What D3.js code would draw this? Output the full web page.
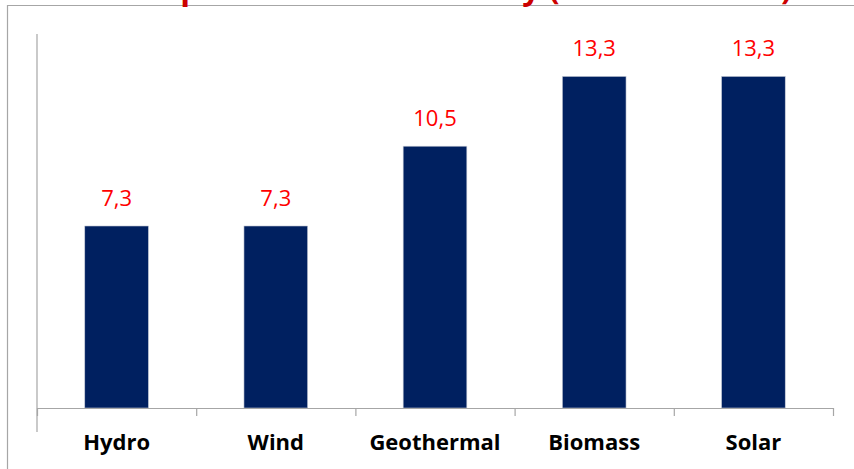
<!DOCTYPE html>
<html>
<head>
<meta charset="utf-8">
<script src="https://cdn.jsdelivr.net/npm/d3@7"></script>
<style>
  body { margin: 0; background: #fff; }
  svg { display: block; }
</style>
</head>
<body>
<svg id="chart"></svg>
<script>
// data
var categories = ["Hydro", "Wind", "Geothermal", "Biomass", "Solar"];
var values = [7.3, 7.3, 10.5, 13.3, 13.3];
var valueLabels = ["7,3", "7,3", "10,5", "13,3", "13,3"];
var titleText = "price test of electricity (US cents/kWh)";

var svgWidth = 854, svgHeight = 469;
var plotLeft = 37, plotRight = 833, plotTop = 34, plotBottom = 408;

var svg = d3.select("#chart")
    .attr("width", svgWidth)
    .attr("height", svgHeight);

// outer chart frame (top + left edges only visible)
svg.append("path")
    .attr("d", "M7.5," + svgHeight + "V5.5H" + svgWidth)
    .attr("fill", "none")
    .attr("stroke", "#a6a6a6")
    .attr("stroke-width", 1.2);

// title, mostly cut off by the top of the window
svg.append("text")
    .attr("x", 486)
    .attr("y", -1.5)
    .attr("text-anchor", "middle")
    .attr("fill", "#cc0000")
    .style("font-family", "'Open Sans', sans-serif")
    .style("font-weight", "bold")
    .style("font-size", "32px")
    .text(titleText);

var x = d3.scaleBand()
    .domain(categories)
    .range([plotLeft, plotRight])
    .paddingInner(0.6)
    .paddingOuter(0.3);

var y = d3.scaleLinear()
    .domain([0, 15])
    .range([plotBottom, plotTop]);

// bars
svg.selectAll("rect.bar")
    .data(values)
    .enter()
    .append("rect")
    .attr("class", "bar")
    .attr("x", function (d, i) { return x(categories[i]); })
    .attr("y", function (d) { return y(d); })
    .attr("width", x.bandwidth())
    .attr("height", function (d) { return plotBottom - y(d); })
    .attr("fill", "#002060")
    .attr("stroke", "#c8cdd8")
    .attr("stroke-width", 0.6);

// value labels
svg.selectAll("text.val")
    .data(values)
    .enter()
    .append("text")
    .attr("class", "val")
    .attr("x", function (d, i) { return x(categories[i]) + x.bandwidth() / 2; })
    .attr("y", function (d) { return y(d) - 20; })
    .attr("text-anchor", "middle")
    .attr("fill", "#ff0000")
    .style("font-family", "'Open Sans', sans-serif")
    .style("font-size", "22px")
    .text(function (d, i) { return valueLabels[i]; });

// x axis with ticks between categories
var xEdges = d3.scaleLinear().domain([0, categories.length]).range([plotLeft, plotRight]);
var x_axis = d3.axisBottom(xEdges)
    .ticks(categories.length)
    .tickSize(8)
    .tickSizeOuter(0)
    .tickFormat("");

var gx = svg.append("g")
    .attr("transform", "translate(0," + plotBottom + ")")
    .call(x_axis);
gx.selectAll("path, line").attr("stroke", "#a6a6a6").attr("stroke-width", 1.2);

// category labels
svg.selectAll("text.cat")
    .data(categories)
    .enter()
    .append("text")
    .attr("class", "cat")
    .attr("x", function (d) { return x(d) + x.bandwidth() / 2; })
    .attr("y", 450)
    .attr("text-anchor", "middle")
    .attr("fill", "#000")
    .style("font-family", "'Open Sans', sans-serif")
    .style("font-weight", "bold")
    .style("font-size", "22px")
    .text(function (d) { return d; });

// y axis line, no labels
svg.append("line")
    .attr("x1", plotLeft).attr("x2", plotLeft)
    .attr("y1", plotTop).attr("y2", 432)
    .attr("stroke", "#a6a6a6")
    .attr("stroke-width", 1.2);
</script>
</body>
</html>
